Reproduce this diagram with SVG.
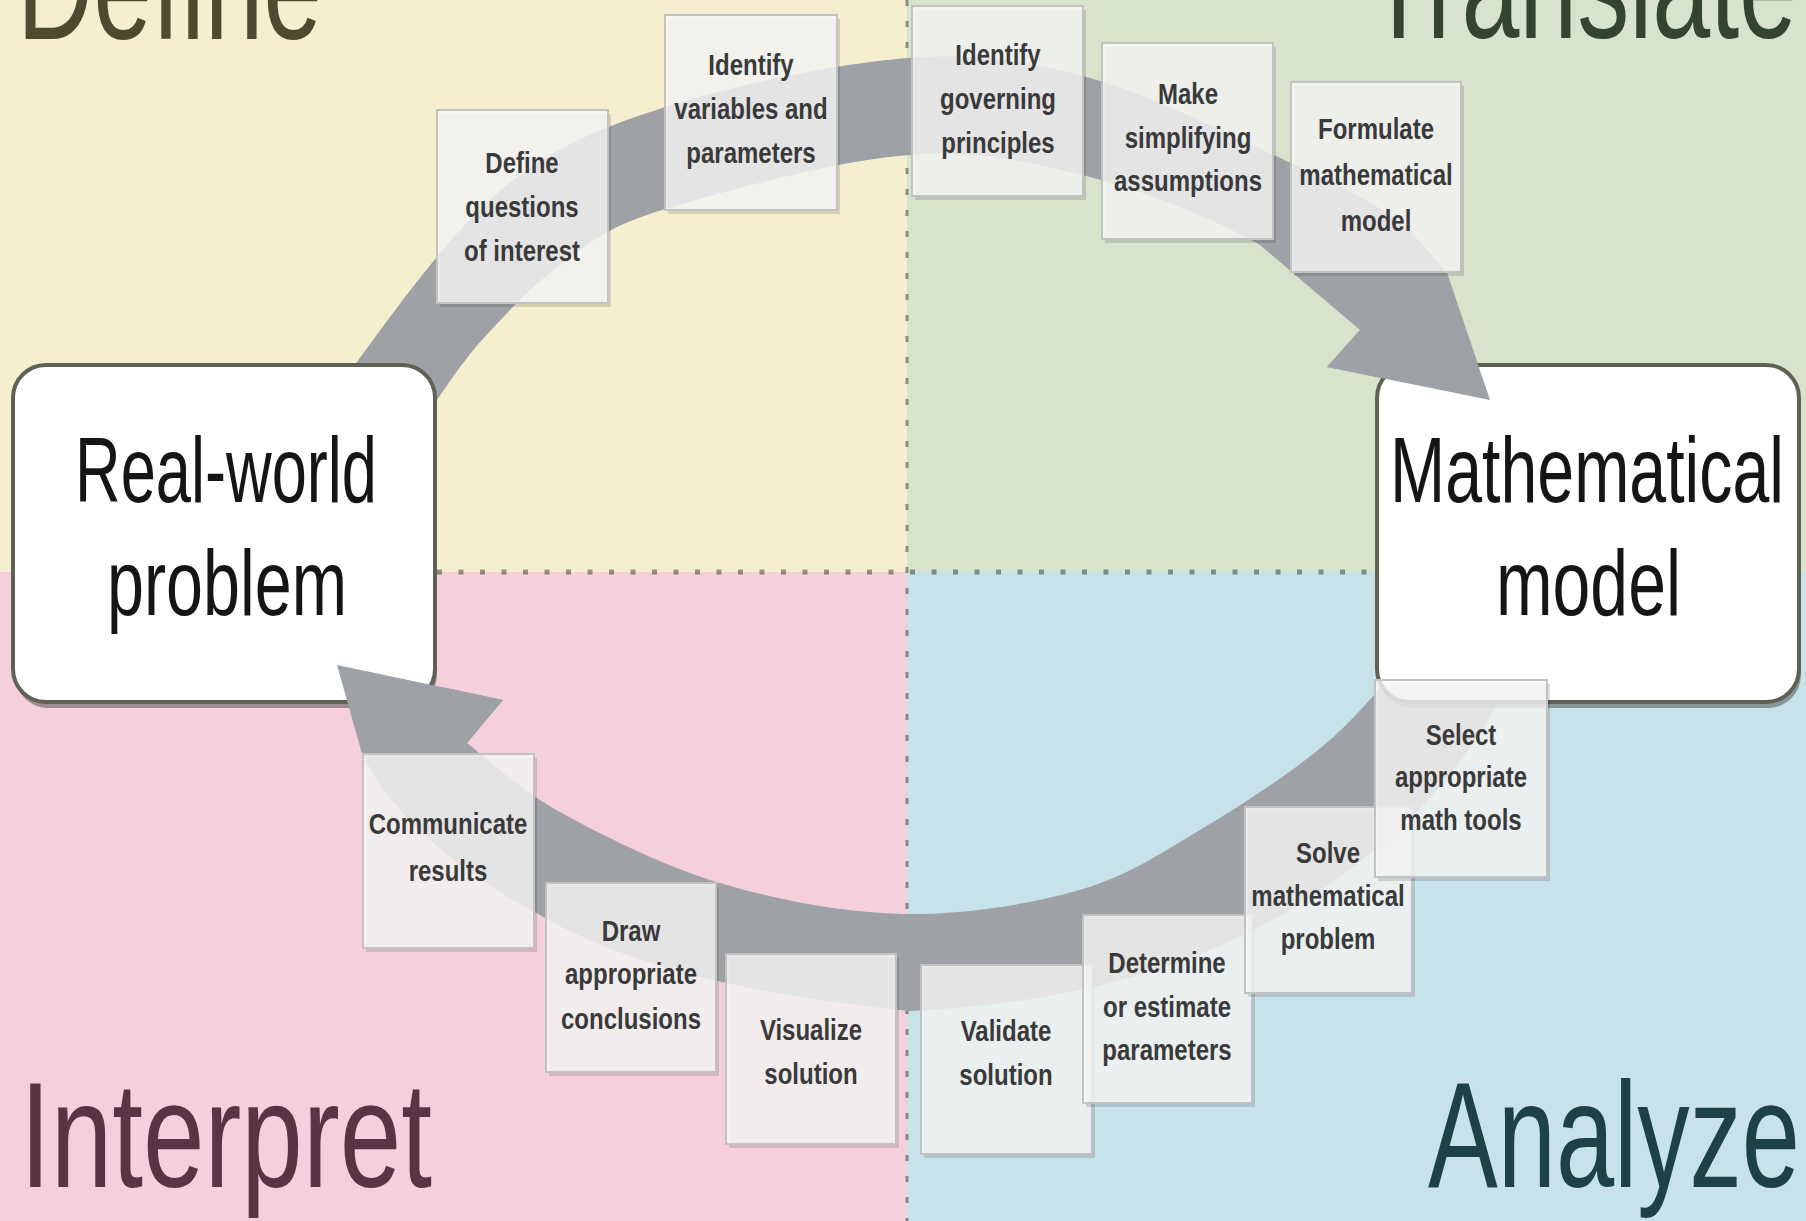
<svg xmlns="http://www.w3.org/2000/svg" width="1806" height="1221" viewBox="0 0 1806 1221">
<defs>
<style>
.q{font-family:"Liberation Sans",Arial,sans-serif;font-size:150px;}
.n{font-family:"Liberation Sans",Arial,sans-serif;font-size:92px;fill:#151515;}
.c{font-family:"Liberation Sans",Arial,sans-serif;font-size:30px;font-weight:bold;fill:#3a3a3a;text-anchor:middle;}
.card{fill:#f8f8f8;fill-opacity:0.82;stroke:#c2c2c2;stroke-width:2;}
.sh{fill:#000;fill-opacity:0.13;}
.band{fill:#9ea2a6;}
.box{fill:#ffffff;stroke:#5e6154;stroke-width:4;}
.boxsh{fill:#4a4a48;fill-opacity:0.5;}
.div{stroke:#333;stroke-opacity:0.5;fill:none;}
</style>
</defs>
<g id="background">
<rect x="0" y="0" width="907" height="572" fill="#f5efcf"/>
<rect x="907" y="0" width="899" height="572" fill="#d8e3cc"/>
<rect x="0" y="572" width="907" height="649" fill="#f5cfdb"/>
<rect x="907" y="572" width="899" height="649" fill="#c7e3e9"/>
<line class="div" x1="907" y1="0" x2="907" y2="1221" stroke-width="3" stroke-dasharray="6 15"/>
<line class="div" x1="437" y1="572" x2="1377" y2="572" stroke-width="5" stroke-dasharray="5 16.5"/>
</g>
<g id="quadrant-labels">
<text class="q" x="17" y="39" fill="#4e4a30" textLength="305" lengthAdjust="spacingAndGlyphs">Define</text>
<text class="q" x="1367" y="38" fill="#34452f" textLength="430" lengthAdjust="spacingAndGlyphs">Translate</text>
<text class="q" x="20" y="1187" fill="#5a3344" textLength="412" lengthAdjust="spacingAndGlyphs">Interpret</text>
<text class="q" x="1428" y="1187" fill="#1e4048" textLength="372" lengthAdjust="spacingAndGlyphs">Analyze</text>
</g>
<g id="connectors">
<path class="band" d="M430 410 C439 398 460 364 482 340 C504 316 530 287 560 265 C590 243 604 228 662 210 C720 192 838 160 909 155 C980 150 1031 162 1090 177 C1148 192 1215 219 1260 245 L1360 330 L1327 367 L1490 400 L1447 273 C1437 263 1418 234 1390 215 C1362 196 1330 181 1280 158 C1230 135 1152 95 1090 78 C1028 61 980 53 909 58 C838 63 730 86 662 108 C594 130 551 149 500 191 C449 233 385 324 357 362 C329 400 334 410 330 420 Z"/>
<path class="band" d="M1420 640 C1405 657 1367 708 1330 740 C1293 772 1242 805 1200 830 C1158 855 1126 877 1076 891 C1027 905 962 915 903 914 C844 913 777 900 720 883 C663 866 602 835 560 812 C518 789 482 754 467 743 L503 700 L337 665 L362 753 C380 790 420 850 540 915 C600 950 700 990 909 1011 C1050 1005 1180 975 1290 910 C1380 855 1450 790 1500 700 C1515 670 1515 650 1510 640 Z"/>
</g>
<g id="node-real-world">
<rect class="boxsh" x="15" y="371" width="422" height="337" rx="33"/>
<rect class="box" x="13" y="365" width="422" height="337" rx="33"/>
<text class="n" x="75" y="502" textLength="302" lengthAdjust="spacingAndGlyphs">Real-world</text>
<text class="n" x="107" y="615" textLength="240" lengthAdjust="spacingAndGlyphs">problem</text>
</g>
<g id="node-mathematical-model">
<rect class="boxsh" x="1379" y="371" width="422" height="337" rx="33"/>
<rect class="box" x="1377" y="365" width="422" height="337" rx="33"/>
<text class="n" x="1390" y="502" textLength="394" lengthAdjust="spacingAndGlyphs">Mathematical</text>
<text class="n" x="1496" y="615" textLength="185" lengthAdjust="spacingAndGlyphs">model</text>
</g>
<g id="arrowheads">
<path class="band" d="M1447 273 L1360 330 L1327 367 L1490 400 Z"/>
<path class="band" d="M467 743 L503 700 L337 665 L362 753 Z"/>
</g>
<g id="step-define-questions">
<rect class="sh" x="440" y="114" width="171" height="193"/>
<rect class="card" x="437" y="110" width="171" height="193"/>
<text class="c" transform="translate(522 0) scale(0.8 1)"><tspan x="0" y="173">Define</tspan><tspan x="0" y="217">questions</tspan><tspan x="0" y="261">of interest</tspan></text>
</g>
<g id="step-identify-variables">
<rect class="sh" x="668" y="19" width="172" height="195"/>
<rect class="card" x="665" y="15" width="172" height="195"/>
<text class="c" transform="translate(751 0) scale(0.8 1)"><tspan x="0" y="75">Identify</tspan><tspan x="0" y="119">variables and</tspan><tspan x="0" y="163">parameters</tspan></text>
</g>
<g id="step-governing-principles">
<rect class="sh" x="915" y="10" width="171" height="190"/>
<rect class="card" x="912" y="6" width="171" height="190"/>
<text class="c" transform="translate(998 0) scale(0.8 1)"><tspan x="0" y="65">Identify</tspan><tspan x="0" y="109">governing</tspan><tspan x="0" y="153">principles</tspan></text>
</g>
<g id="step-simplifying-assumptions">
<rect class="sh" x="1105" y="47" width="171" height="196"/>
<rect class="card" x="1102" y="43" width="171" height="196"/>
<text class="c" transform="translate(1188 0) scale(0.8 1)"><tspan x="0" y="104">Make</tspan><tspan x="0" y="148">simplifying</tspan><tspan x="0" y="191">assumptions</tspan></text>
</g>
<g id="step-formulate-model">
<rect class="sh" x="1294" y="86" width="170" height="190"/>
<rect class="card" x="1291" y="82" width="170" height="190"/>
<text class="c" transform="translate(1376 0) scale(0.8 1)"><tspan x="0" y="139">Formulate</tspan><tspan x="0" y="185">mathematical</tspan><tspan x="0" y="231">model</tspan></text>
</g>
<g id="step-communicate-results">
<rect class="sh" x="366" y="758" width="171" height="194"/>
<rect class="card" x="363" y="754" width="171" height="194"/>
<text class="c" transform="translate(448 0) scale(0.8 1)"><tspan x="0" y="834">Communicate</tspan><tspan x="0" y="881">results</tspan></text>
</g>
<g id="step-draw-conclusions">
<rect class="sh" x="549" y="887" width="170" height="189"/>
<rect class="card" x="546" y="883" width="170" height="189"/>
<text class="c" transform="translate(631 0) scale(0.8 1)"><tspan x="0" y="941">Draw</tspan><tspan x="0" y="984">appropriate</tspan><tspan x="0" y="1029">conclusions</tspan></text>
</g>
<g id="step-visualize-solution">
<rect class="sh" x="729" y="958" width="170" height="190"/>
<rect class="card" x="726" y="954" width="170" height="190"/>
<text class="c" transform="translate(811 0) scale(0.8 1)"><tspan x="0" y="1040">Visualize</tspan><tspan x="0" y="1084">solution</tspan></text>
</g>
<g id="step-validate-solution">
<rect class="sh" x="924" y="969" width="171" height="189"/>
<rect class="card" x="921" y="965" width="171" height="189"/>
<text class="c" transform="translate(1006 0) scale(0.8 1)"><tspan x="0" y="1041">Validate</tspan><tspan x="0" y="1085">solution</tspan></text>
</g>
<g id="step-determine-parameters">
<rect class="sh" x="1086" y="919" width="169" height="188"/>
<rect class="card" x="1083" y="915" width="169" height="188"/>
<text class="c" transform="translate(1167 0) scale(0.8 1)"><tspan x="0" y="973">Determine</tspan><tspan x="0" y="1017">or estimate</tspan><tspan x="0" y="1060">parameters</tspan></text>
</g>
<g id="step-solve-problem">
<rect class="sh" x="1248" y="811" width="167" height="186"/>
<rect class="card" x="1245" y="807" width="167" height="186"/>
<text class="c" transform="translate(1328 0) scale(0.8 1)"><tspan x="0" y="863">Solve</tspan><tspan x="0" y="906">mathematical</tspan><tspan x="0" y="949">problem</tspan></text>
</g>
<g id="step-select-tools">
<rect class="sh" x="1378" y="684" width="172" height="197"/>
<rect class="card" x="1375" y="680" width="172" height="197"/>
<text class="c" transform="translate(1461 0) scale(0.8 1)"><tspan x="0" y="745">Select</tspan><tspan x="0" y="787">appropriate</tspan><tspan x="0" y="830">math tools</tspan></text>
</g>
</svg>
